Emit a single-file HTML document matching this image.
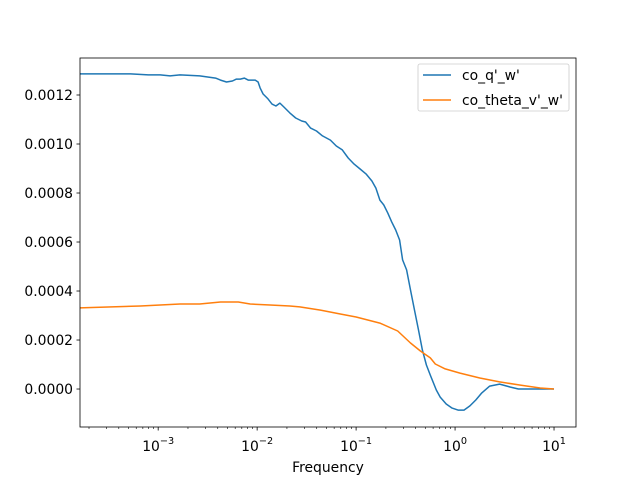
<!DOCTYPE html>
<html><head><meta charset="utf-8"><style>body{margin:0;background:#fff}svg{display:block;font-family:"DejaVu Sans","Liberation Sans",sans-serif}</style></head>
<body>
<svg id="chart" width="640" height="480"></svg>
<script>
const blueLogFreq=[-3.79,-3.28,-3.10,-2.98,-2.88,-2.78,-2.58,-2.42,-2.37,-2.31,-2.25,-2.21,-2.17,-2.13,-2.09,-2.05,-2.02,-1.99,-1.97,-1.94,-1.89,-1.85,-1.81,-1.77,-1.73,-1.67,-1.61,-1.55,-1.51,-1.46,-1.40,-1.34,-1.26,-1.20,-1.14,-1.08,-1.02,-0.96,-0.90,-0.84,-0.80,-0.76,-0.72,-0.68,-0.64,-0.60,-0.56,-0.53,-0.49,-0.45,-0.41,-0.37,-0.33,-0.29,-0.25,-0.19,-0.15,-0.09,-0.03,0.03,0.09,0.15,0.21,0.27,0.35,0.45,0.56,0.64,0.76,1.00];
const blueValues=[12.86,12.86,12.82,12.82,12.78,12.82,12.78,12.69,12.61,12.53,12.57,12.65,12.65,12.69,12.61,12.61,12.61,12.53,12.29,12.04,11.84,11.63,11.55,11.67,11.51,11.27,11.06,10.94,10.90,10.65,10.53,10.33,10.16,9.92,9.76,9.43,9.18,8.98,8.78,8.49,8.20,7.71,7.51,7.18,6.82,6.49,6.08,5.27,4.86,4.04,3.22,2.41,1.59,0.98,0.57,-0.04,-0.33,-0.61,-0.78,-0.86,-0.86,-0.69,-0.45,-0.16,0.12,0.20,0.08,0,0,0];
const orangeLogFreq=[-3.79,-3.18,-2.78,-2.58,-2.37,-2.19,-2.07,-1.87,-1.67,-1.57,-1.36,-1.16,-1.00,-0.76,-0.58,-0.45,-0.35,-0.25,-0.20,-0.10,0.05,0.25,0.45,0.66,0.86,1.00];
const orangeValues=[3.31,3.39,3.47,3.47,3.55,3.55,3.47,3.43,3.39,3.35,3.22,3.06,2.94,2.69,2.37,1.88,1.55,1.27,1.02,0.82,0.65,0.45,0.29,0.16,0.04,0];
const yTicks=[0,0.0002,0.0004,0.0006,0.0008,0.0010,0.0012];
const yTickLabels=["0.0000","0.0002","0.0004","0.0006","0.0008","0.0010","0.0012"];
const xTickExps=[-3,-2,-1,0,1];

const L=80,R=576,T=58,B=427;
const xMinE=-3.79,xMaxE=1.222,yMin=-1.55e-4,yMax=13.51e-4;
const xs=e=>L+(e-xMinE)/(xMaxE-xMinE)*(R-L);
const ys=v=>B-(v-yMin)/(yMax-yMin)*(B-T);
const svg=document.getElementById('chart');
const NS='http://www.w3.org/2000/svg';
function mk(tag,attrs,parent){const el=document.createElementNS(NS,tag);for(const k in attrs)el.setAttribute(k,attrs[k]);(parent||svg).appendChild(el);return el;}

yTicks.forEach((v,i)=>{
  const y=ys(v);
  const t=mk('line',{x1:L-3.5,x2:L,y1:y,y2:y,stroke:'#000','stroke-width':0.8});
  
  
  const tx=mk('text',{x:L-7,y:y+5,'text-anchor':'end','font-size':13.9});
  tx.textContent=yTickLabels[i];
  
  
});
for(let d=-4;d<=1;d++){
  for(let m=2;m<=9;m++){
    const e=d+Math.log10(m);
    if(e<xMinE||e>xMaxE)continue;
    const x=xs(e);
    const mt=mk('line',{x1:x,x2:x,y1:B,y2:B+2,stroke:'#000','stroke-width':0.6});
    
    
  }
}
xTickExps.forEach(e=>{
  const x=xs(e);
  const t=mk('line',{x1:x,x2:x,y1:B,y2:B+3.5,stroke:'#000','stroke-width':0.8});
  
  
  const tx=mk('text',{x:x,y:B+24,'text-anchor':'middle','font-size':13.9});
  tx.innerHTML='10<tspan dy="-7" font-size="9.7">'+(e<0?'\u2212'+(-e):e)+'</tspan>';
  
  
});
function series(ex,vals,color,name){
  const d=ex.map((e,i)=>(i?'L':'M')+xs(e).toFixed(1)+' '+ys(vals[i]*1e-4).toFixed(1)).join(' ');
  const p=mk('path',{d:d,fill:'none',stroke:color,'stroke-width':1.5,'stroke-linejoin':'round'});
  
  
}
series(blueLogFreq,blueValues,'#1f77b4','line-co-q-w');
series(orangeLogFreq,orangeValues,'#ff7f0e','line-co-theta-v-w');
const frame=mk('rect',{x:L,y:T,width:R-L,height:B-T,fill:'none',stroke:'#000','stroke-width':0.8});


const xl=mk('text',{x:(L+R)/2,y:472,'text-anchor':'middle','font-size':13.9});
xl.textContent='Frequency';


const lg=mk('g',{});


mk('rect',{x:418,y:64,width:151,height:47,rx:2,fill:'#fff',stroke:'#ccc','stroke-width':0.8},lg);
[['#1f77b4',"co_q'_w'",75],['#ff7f0e',"co_theta_v'_w'",100]].forEach(([c,t,y])=>{
  const ln=mk('line',{x1:423,x2:451,y1:y,y2:y,stroke:c,'stroke-width':1.5},lg);
  
  
  const tx=mk('text',{x:462,y:y+5,'font-size':13.9},lg);
  tx.textContent=t;
  
  
});
</script>
</body></html>
